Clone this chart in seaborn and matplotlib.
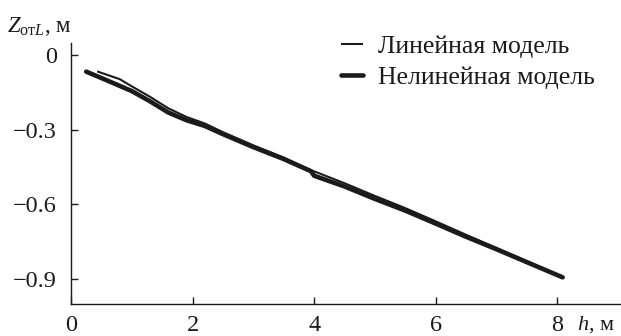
import matplotlib
matplotlib.use("Agg")
import matplotlib.pyplot as plt
import seaborn as sns
import pandas as pd
import numpy as np

# Data
h_linear = [0.43, 0.8, 1.0, 1.3, 1.6, 1.9, 2.2, 2.5, 3.0, 3.5, 3.95, 4.05, 4.5, 5.0, 5.5, 6.0, 6.5, 7.0, 7.5, 8.09]
z_linear = [-0.066, -0.097, -0.126, -0.168, -0.214, -0.249, -0.275, -0.310, -0.363, -0.412, -0.463, -0.472,
            -0.515, -0.566, -0.615, -0.668, -0.722, -0.775, -0.828, -0.891]
h_nonlinear = [0.25, 0.6, 1.0, 1.3, 1.6, 1.9, 2.2, 2.5, 3.0, 3.5, 3.95, 4.0, 4.5, 5.0, 5.5, 6.0, 6.5, 7.0, 7.5, 8.09]
z_nonlinear = [-0.067, -0.103, -0.145, -0.186, -0.231, -0.262, -0.285, -0.318, -0.370, -0.418, -0.467, -0.485,
               -0.528, -0.578, -0.625, -0.677, -0.730, -0.780, -0.832, -0.893]
x_ticks = [0, 2, 4, 6, 8]
y_ticks = [0, -0.3, -0.6, -0.9]
y_tick_labels = ["0", "\u22120.3", "\u22120.6", "\u22120.9"]
series_names = ["Линейная модель", "Нелинейная модель"]

sns.set_style("ticks")
plt.rcParams["font.family"] = ["Liberation Serif", "DejaVu Serif"]
plt.rcParams["mathtext.fontset"] = "custom"
plt.rcParams["mathtext.rm"] = "Liberation Serif"
plt.rcParams["mathtext.it"] = "Liberation Serif:italic"

df_lin = pd.DataFrame({"h": h_linear, "z": z_linear})
df_non = pd.DataFrame({"h": h_nonlinear, "z": z_nonlinear})

fig = plt.figure(figsize=(6.21, 3.36), dpi=100)
ax = fig.add_axes([71 / 621, 1 - 304 / 336, 1 - 71 / 621, (304 - 43) / 336])

col = "#1c1a1a"
sns.lineplot(data=df_lin, x="h", y="z", ax=ax, color=col, linewidth=1.5, sort=False,
             label=series_names[0], solid_capstyle="butt")
sns.lineplot(data=df_non, x="h", y="z", ax=ax, color=col, linewidth=3.3, sort=False,
             label=series_names[1], solid_capstyle="round")

ax.set_xlim(0, 9.05)
ax.set_ylim(-1.0, 0.048)
ax.set_xticks(x_ticks)
ax.set_xticklabels([str(t) for t in x_ticks])
ax.set_yticks(y_ticks)
ax.set_yticklabels(y_tick_labels)
ax.tick_params(direction="in", length=5, width=1, labelsize=17.5, colors=col)
ax.tick_params(axis="y", pad=10)
ax.tick_params(axis="x", pad=8)
for s in ["top", "right"]:
    ax.spines[s].set_visible(False)
for s in ["left", "bottom"]:
    ax.spines[s].set_linewidth(1.0)
    ax.spines[s].set_color(col)
ax.set_xlabel("")
ax.set_ylabel("")

fig.text(7 / 621, 1 - 26 / 336, r"$Z_{\mathrm{от}L}$, м", fontsize=16.5, color=col, va="center", ha="left")
fig.text(577 / 621, 1 - 325 / 336, r"$h$, м", fontsize=16, color=col, va="center", ha="left")

leg = ax.legend(loc="upper left", bbox_to_anchor=(341 / 621, 1 - 35 / 336), bbox_transform=fig.transFigure,
                frameon=False, fontsize=18.5, handlelength=0.85, handletextpad=0.6, labelspacing=0.3,
                borderpad=0, borderaxespad=0)
for t in leg.get_texts():
    t.set_color(col)

fig.savefig("out.png", dpi=100)
